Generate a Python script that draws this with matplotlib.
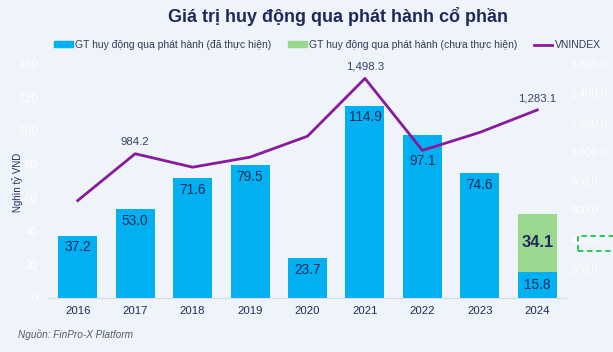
import matplotlib.pyplot as plt
from matplotlib.patches import Rectangle
from matplotlib.lines import Line2D
from matplotlib.ticker import FuncFormatter

plt.rcParams['font.family'] = ['Liberation Sans', 'DejaVu Sans']

years = ['2016', '2017', '2018', '2019', '2020', '2021', '2022', '2023', '2024']
done = [37.2, 53.0, 71.6, 79.5, 23.7, 114.9, 97.1, 74.6, 15.8]
pending = [0, 0, 0, 0, 0, 0, 0, 0, 34.1]
vnindex = [664.9, 984.2, 892.5, 961.0, 1103.9, 1498.3, 1007.1, 1129.9, 1283.1]
vn_labels = {1: '984.2', 5: '1,498.3', 8: '1,283.1'}

navy = '#1f2a5c'
blue = '#00b0f0'
green = '#9ad88f'
purple = '#8a1a9c'
bg = '#eef4fa'

fig = plt.figure(figsize=(6.13, 3.52), dpi=100, facecolor=bg)
ax = fig.add_axes([49 / 613, 54 / 352, 517 / 613, 234.5 / 352])
ax.set_facecolor('none')
ax2 = ax.twinx()

x = list(range(len(years)))
ax.bar(x, done, width=0.68, color=blue, zorder=2)
ax.bar(x, pending, width=0.68, bottom=done, color=green, zorder=2)

for i, v in enumerate(done):
    if i == 8:
        ax.text(i, v / 2, f'{v:.1f}', ha='center', va='center', color=navy, fontsize=9.8)
    else:
        # 2022 label sits below the VNINDEX line
        drop = 11 if i == 6 else 2.8
        ax.text(i, v - drop, f'{v:.1f}', ha='center', va='top', color=navy, fontsize=9.8)
ax.text(8, done[8] + pending[8] / 2, f'{pending[8]:.1f}', ha='center', va='center',
        color=navy, fontsize=11.8, fontweight='bold')

ax2.plot(x, vnindex, color=purple, lw=2, zorder=3)
for i, s in vn_labels.items():
    ax2.text(i, vnindex[i] + 45, s, ha='center', va='bottom', color='#3a3f66', fontsize=8.2)

ax.set_xlim(-0.5, 8.5)
ax.set_ylim(0, 140)
ax2.set_ylim(0, 1600)
ax.set_yticks(range(0, 141, 20))
ax2.set_yticks(range(200, 1601, 200))
ax2.yaxis.set_major_formatter(FuncFormatter(lambda v, p: f'{v:,.1f}'))
ax.set_xticks(x)
ax.set_xticklabels(years, color=navy, fontsize=8.2)
ax.tick_params(axis='x', length=0, pad=6)
ax.tick_params(axis='y', length=0, colors='#ffffff', labelsize=8.5, pad=8)
ax2.tick_params(axis='y', length=0, colors='#ffffff', labelsize=8, pad=3)
for a in (ax, ax2):
    for s in a.spines.values():
        s.set_visible(False)
ax.spines['bottom'].set_visible(True)
ax.spines['bottom'].set_color('#d8dde5')

ax.set_ylabel('Nghìn tỷ VND', color=navy, fontsize=7)
ax.yaxis.set_label_coords(-26 / 517, (298 - 182) / 234.5)

fig.text(338 / 613, 1 - 16 / 352, 'Giá trị huy động qua phát hành cổ phần', ha='center', va='center',
         color=navy, fontsize=13, fontweight='bold')

handles = [Rectangle((0, 0), 1, 1, color=blue), Rectangle((0, 0), 1, 1, color=green),
           Line2D([0], [0], color=purple, lw=2)]
labels = ['GT huy động qua phát hành (đã thực hiện)', 'GT huy động qua phát hành (chưa thực hiện)', 'VNINDEX']
fig.legend(handles, labels, loc='center', bbox_to_anchor=(0.534, 1 - 45 / 352), ncol=3, frameon=False,
           fontsize=7.5, handlelength=1.8, handleheight=0.5, handletextpad=0.2, columnspacing=1.6,
           labelcolor='#333a55')

fig.patches.append(Rectangle((578 / 613, 1 - 251 / 352), 40 / 613, 15 / 352, transform=fig.transFigure,
                             fill=False, edgecolor='#22c24a', lw=1.3, ls=(0, (3, 2))))

fig.text(18 / 613, 1 - 335 / 352, 'Nguồn: FinPro-X Platform', color='#555a66', fontsize=7.2,
         style='italic', va='center')

fig.savefig('out.png', dpi=100, facecolor=bg)
